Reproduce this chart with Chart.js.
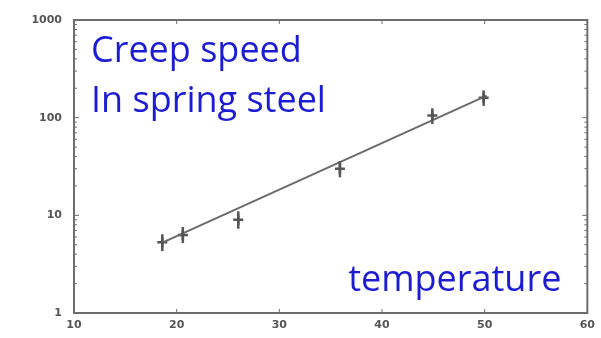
<!DOCTYPE html>
<html>
<head>
<meta charset="utf-8">
<script src="https://cdn.jsdelivr.net/npm/chart.js@4.4.1/dist/chart.umd.min.js"></script>
<style>
  html, body { margin: 0; padding: 0; background: #fff; }
  #wrap { width: 601px; height: 338px; }
</style>
</head>
<body>
<div id="wrap"><canvas id="creep"></canvas></div>
<script>
// measured points (temperature vs creep speed)
const temps = [18.6, 20.6, 26.0, 35.9, 44.9, 49.9];
const speeds = [5.3, 6.3, 9.0, 30, 105, 160];
const errLow = [4.3, 5.2, 7.3, 24.5, 86, 132];
const errHigh = [6.4, 7.6, 11, 36, 125, 190];

// fitted line ends
const fitX = [18.5, 50.2];
const fitY = [5.2, 168];

const xTicks = [10, 20, 30, 40, 50, 60];
const yTicks = [1, 10, 100, 1000];

const axisGray = '#6e6e6e';
const textBlue = '#1c1cd2';

// vertical error bars drawn through the scales
const errorBars = {
    id: 'errorBars',
    afterDatasetsDraw(chart) {
        const { ctx, scales: { x, y } } = chart;
        ctx.save();
        ctx.strokeStyle = '#555';
        ctx.lineWidth = 2.5;
        temps.forEach((t, i) => {
            const px = x.getPixelForValue(t);
            ctx.beginPath();
            ctx.moveTo(px, y.getPixelForValue(errLow[i]));
            ctx.lineTo(px, y.getPixelForValue(errHigh[i]));
            ctx.stroke();
        });
        ctx.restore();
    }
};

// blue captions inside the frame
const captions = {
    id: 'captions',
    afterDraw(chart) {
        const { ctx, chartArea: a } = chart;
        ctx.save();
        ctx.fillStyle = textBlue;
        ctx.font = '36px "Open Sans", sans-serif';
        ctx.textBaseline = 'alphabetic';
        ctx.textAlign = 'left';
        ctx.fillText('Creep speed', a.left + 17, a.top + 42);
        ctx.fillText('In spring steel', a.left + 17, a.top + 92);
        ctx.textAlign = 'right';
        ctx.fillText('temperature', a.right - 26, a.bottom - 22);
        ctx.restore();
    }
};

// frame around the plot, with small inward ticks
const frame = {
    id: 'frame',
    beforeDatasetsDraw(chart) {
        const { ctx, chartArea: a, scales: { x, y } } = chart;
        ctx.save();
        ctx.strokeStyle = axisGray;
        ctx.lineWidth = 2;
        ctx.strokeRect(a.left, a.top, a.right - a.left, a.bottom - a.top);
        ctx.lineWidth = 1;
        ctx.beginPath();
        for (let d = 1; d < 1000; d *= 10) {
            for (let m = 2; m <= 9; m++) {
                const py = y.getPixelForValue(d * m);
                ctx.moveTo(a.left, py); ctx.lineTo(a.left + 3, py);
                ctx.moveTo(a.right, py); ctx.lineTo(a.right - 3, py);
            }
        }
        yTicks.forEach(v => {
            const py = y.getPixelForValue(v);
            ctx.moveTo(a.left, py); ctx.lineTo(a.left + 5, py);
            ctx.moveTo(a.right, py); ctx.lineTo(a.right - 5, py);
        });
        xTicks.forEach(v => {
            const px = x.getPixelForValue(v);
            ctx.moveTo(px, a.bottom); ctx.lineTo(px, a.bottom - 4);
            ctx.moveTo(px, a.top); ctx.lineTo(px, a.top + 4);
        });
        ctx.stroke();
        ctx.restore();
    }
};

new Chart(document.getElementById('creep').getContext('2d'), {
    type: 'scatter',
    data: {
        datasets: [
            {
                label: 'fit',
                type: 'line',
                data: fitX.map((v, i) => ({ x: v, y: fitY[i] })),
                borderColor: '#6a6a6a',
                borderWidth: 2,
                pointRadius: 0,
                fill: false
            },
            {
                label: 'measured',
                data: temps.map((v, i) => ({ x: v, y: speeds[i] })),
                pointStyle: 'cross',
                pointRadius: 5,
                borderColor: '#555',
                backgroundColor: '#555',
                borderWidth: 2.5
            }
        ]
    },
    options: {
        responsive: true,
        maintainAspectRatio: false,
        animation: false,
        layout: { padding: { top: 20, right: 12, left: 0, bottom: 0 } },
        plugins: {
            legend: { display: false },
            tooltip: { enabled: false }
        },
        scales: {
            x: {
                type: 'linear',
                min: 10,
                max: 60,
                border: { display: false },
                grid: { display: false, drawTicks: false },
                afterFit(s) { s.height = 25; },
                afterBuildTicks(s) { s.ticks = xTicks.map(v => ({ value: v })); },
                ticks: {
                    padding: 6,
                    color: '#555',
                    font: { family: 'DejaVu Sans', size: 11, weight: 'bold' },
                    maxRotation: 0
                }
            },
            y: {
                type: 'logarithmic',
                min: 1,
                max: 1000,
                border: { display: false },
                grid: { display: false, drawTicks: false },
                afterFit(s) { s.width = 74; },
                afterBuildTicks(s) { s.ticks = yTicks.map(v => ({ value: v })); },
                ticks: {
                    padding: 12,
                    color: '#555',
                    font: { family: 'DejaVu Sans', size: 11, weight: 'bold' },
                    callback: v => String(v)
                }
            }
        }
    },
    plugins: [frame, errorBars, captions]
});
</script>
</body>
</html>
